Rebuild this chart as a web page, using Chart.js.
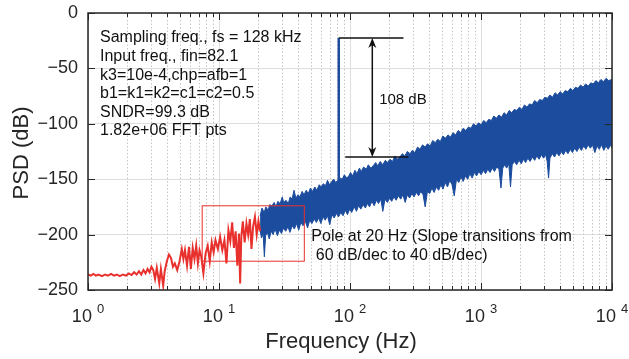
<!DOCTYPE html>
<html>
<head>
<meta charset="utf-8">
<script src="https://cdn.jsdelivr.net/npm/chart.js@4.4.1/dist/chart.umd.min.js"></script>
<style>
  html, body { margin: 0; padding: 0; background: #fff; }
  #wrap { width: 629px; height: 359px; }
</style>
</head>
<body>
<div id="wrap"><canvas id="psd" width="629" height="359"></canvas></div>
<script>
// x axis: frequency (Hz), log; y axis: PSD (dB)
const freqTicks = [1, 10, 100, 1000, 10000]
const freqExponents = ['0', '1', '2', '3', '4']
const psdTicks = [0, -50, -100, -150, -200, -250]

// low-frequency part of the spectrum (red, below the 20 Hz pole)
const redFreq = [1.00, 1.05, 1.10, 1.15, 1.20, 1.28, 1.35, 1.42, 1.50, 1.58, 1.66, 1.75, 1.85, 1.95, 2.05, 2.15, 2.25, 2.35, 2.45, 2.55, 2.65, 2.75, 2.85, 2.95, 3.05, 3.15, 3.25, 3.35, 3.50, 3.60, 3.75, 3.85, 4.00, 4.15, 4.30, 4.45, 4.60, 4.80, 5.00, 5.20, 5.35, 5.50, 5.70, 5.90, 6.10, 6.30, 6.50, 6.70, 6.90, 7.10, 7.30, 7.60, 7.90, 8.20, 8.50, 8.80, 9.10, 9.40, 9.80, 10.2, 10.6, 11.0, 11.4, 11.8, 12.2, 12.6, 13.0, 13.4, 13.8, 14.2, 14.5, 14.8, 15.2, 15.7, 16.2, 16.7, 17.2, 17.7, 18.2, 18.8, 19.4, 20.0, 20.6]
const redPsd = [-236, -237, -235.5, -237, -236, -237.5, -236, -237, -235.5, -237, -236, -237.5, -236, -237, -235, -236.5, -234, -236, -233, -236, -232, -235, -231, -234, -229, -232, -240, -230, -244, -231, -246, -233, -224, -218, -221, -229, -226, -232, -224, -213, -222, -214, -228, -211, -231, -212, -222, -210, -226, -214, -219, -235, -217, -210, -224, -207, -216, -205, -213, -202, -214, -205, -226, -196, -206, -189, -212, -197, -228, -199, -244, -202, -188, -207, -190, -200, -186, -213, -193, -184, -200, -188, -197]

// noise band above 20 Hz (blue): upper edge of the dense FFT trace
const bandTopFreq = [20.6, 21.3, 22.1, 22.8, 23.7, 24.4, 25.3, 26.4, 27.2, 28.1, 29.3, 30.4, 31.2, 32.5, 33.8, 34.9, 36.1, 37.4, 38.6, 40.2, 41.5, 43.1, 44.6, 46.3, 48.0, 49.9, 51.6, 53.9, 55.8, 58.2, 60.1, 62.7, 65.0, 67.3, 69.8, 72.6, 75.1, 77.9, 80.5, 84.0, 87.2, 90.6, 94.3, 97.8, 101, 105, 109, 113, 118, 122, 127, 133, 138, 144, 150, 157, 163, 170, 178, 186, 193, 202, 211, 220, 229, 240, 251, 262, 274, 287, 299, 313, 328, 342, 358, 374, 391, 409, 428, 447, 468, 489, 512, 535, 560, 585, 612, 640, 670, 700, 732, 766, 801, 838, 876, 916, 958, 1002, 1048, 1096, 1146, 1199, 1254, 1311, 1371, 1434, 1500, 1569, 1641, 1716, 1795, 1877, 1963, 2053, 2147, 2245, 2348, 2456, 2568, 2686, 2809, 2938, 3073, 3213, 3361, 3515, 3676, 3844, 4021, 4205, 4398, 4599, 4810, 5031, 5261, 5502, 5755, 6019, 6295, 6583, 6885, 7200, 7530, 7876, 8237, 8614, 9009, 9422, 10000]
const bandTopPsd = [-183, -176, -180, -175, -178, -173, -174, -171, -175, -170, -172, -166, -171, -169, -172, -166, -168, -160, -167, -164, -166, -161, -164, -160, -163, -158, -161, -157, -160, -155, -157, -154, -156, -151, -155, -152, -150, -153, -151, -149, -150, -146, -149, -147, -144, -147, -142, -145, -140, -143, -139, -141, -137, -140, -138, -135, -138, -134, -137, -133, -135, -132, -134, -129, -132, -130, -127, -129, -125, -127, -124, -126, -121, -123, -119, -121, -118, -120, -115, -117, -114, -116, -111, -113, -110, -112, -108, -110, -106, -108, -104, -106, -103, -104, -100, -102, -99, -101, -97, -99, -96, -97, -93, -95, -92, -94, -90, -92, -88, -90, -87, -88, -85, -87, -83, -85, -82, -83, -79, -81, -78, -79, -76, -77, -74, -76, -72, -74, -71, -73, -70, -71, -68, -70, -67, -68, -65, -67, -64, -66, -63, -64, -61, -63, -60, -62, -59, -61, -60]
// lower edge of the band, with the deeper downward spikes
const bandLowFreq = [20.6, 21.1, 21.7, 22.2, 22.7, 23.4, 24.2, 25.0, 25.9, 26.8, 27.9, 28.9, 30.0, 31.1, 32.3, 33.6, 34.8, 36.2, 37.6, 39.1, 40.6, 42.2, 43.8, 45.6, 47.4, 49.3, 51.2, 53.3, 55.4, 57.6, 59.9, 62.3, 64.7, 67.3, 70.0, 72.8, 75.7, 78.7, 81.8, 85.1, 88.5, 92.0, 95.7, 99.5, 103, 108, 112, 116, 121, 126, 131, 136, 141, 147, 153, 159, 165, 172, 178, 185, 193, 200, 208, 217, 225, 234, 244, 253, 264, 274, 285, 297, 308, 321, 334, 347, 361, 375, 390, 406, 422, 439, 456, 475, 494, 513, 534, 555, 578, 601, 625, 650, 676, 703, 731, 761, 791, 823, 856, 890, 926, 963, 1002, 1042, 1083, 1127, 1172, 1219, 1268, 1319, 1372, 1420, 1466, 1515, 1570, 1630, 1680, 1730, 1800, 1870, 1950, 2030, 2110, 2190, 2280, 2370, 2470, 2570, 2670, 2780, 2890, 3000, 3120, 3200, 3280, 3360, 3500, 3640, 3790, 3940, 4100, 4260, 4430, 4610, 4800, 4990, 5190, 5400, 5620, 5840, 6080, 6320, 6570, 6840, 7110, 7400, 7690, 8000, 8320, 8660, 9000, 9360, 9740, 10000]
const bandLowPsd = [-196, -203, -199, -220, -201, -198, -204, -197, -200, -195, -201, -196, -199, -194, -197, -193, -198, -192, -195, -190, -196, -189, -192, -188, -194, -187, -190, -186, -189, -185, -190, -184, -187, -183, -191, -182, -185, -181, -184, -180, -183, -178, -182, -177, -180, -175, -179, -174, -177, -173, -176, -172, -175, -170, -174, -169, -172, -168, -179, -168, -171, -167, -170, -166, -169, -165, -168, -164, -171, -164, -167, -163, -166, -162, -165, -161, -164, -175, -161, -163, -158, -162, -157, -160, -155, -159, -153, -157, -151, -155, -165, -150, -153, -148, -152, -147, -150, -145, -149, -144, -147, -143, -146, -142, -145, -141, -144, -140, -143, -139, -141, -158, -140, -137, -140, -136, -157, -137, -134, -137, -133, -136, -132, -135, -131, -134, -130, -133, -129, -132, -128, -131, -128, -134, -149, -131, -127, -130, -126, -129, -125, -128, -124, -127, -123, -126, -122, -125, -121, -124, -120, -123, -119, -122, -119, -126, -120, -123, -119, -124, -120, -123, -119, -122]

// input tone at fin = 82.1 Hz
const toneFreq = [82.1, 82.1]
const tonePsd = [-176, -22.5]

const FONT = '"Liberation Sans", Arial, Helvetica, sans-serif'
const BLUE = '#1c4c9e'
const RED = '#e8302d'

const infoLines = ['Sampling freq., fs = 128 kHz', 'Input freq., fin=82.1', 'k3=10e-4,chp=afb=1', 'b1=k1=k2=c1=c2=0.5', 'SNDR=99.3 dB', '1.82e+06 FFT pts']
const poleLines = ['Pole at 20 Hz (Slope transitions from', ' 60 dB/dec to 40 dB/dec)']

const toPoints = (xs, ys) => xs.map((x, i) => ({ x, y: ys[i] }))

const minorFreqs = []
freqTicks.slice(0, -1).forEach(d => { for (let m = 2; m <= 9; m++) minorFreqs.push(d * m) })

const arrowHead = (ctx, x, y, dir) => {
  ctx.beginPath()
  ctx.moveTo(x, y)
  ctx.lineTo(x - 4, y + dir * 10)
  ctx.lineTo(x, y + dir * 7)
  ctx.lineTo(x + 4, y + dir * 10)
  ctx.closePath()
  ctx.fill()
}

const decorations = {
  id: 'decorations',
  beforeDatasetsDraw (chart) {
    const { ctx, chartArea: a, scales: { x } } = chart
    ctx.save()
    ctx.strokeStyle = '#c6c6c6'
    ctx.lineWidth = 1
    ctx.setLineDash([1.5, 2])
    minorFreqs.forEach(f => {
      const px = Math.round(x.getPixelForValue(f)) + 0.5
      ctx.beginPath(); ctx.moveTo(px, a.top); ctx.lineTo(px, a.bottom); ctx.stroke()
    })
    ctx.restore()
  },
  afterDraw (chart) {
    const { ctx, chartArea: a, scales: { x, y } } = chart
    ctx.save()

    // red box around the pole region
    ctx.strokeStyle = RED
    ctx.lineWidth = 1
    const bx0 = x.getPixelForValue(7.44), bx1 = x.getPixelForValue(44.8)
    const by0 = y.getPixelForValue(-174), by1 = y.getPixelForValue(-224)
    ctx.strokeRect(bx0, by0, bx1 - bx0, by1 - by0)

    // 108 dB dimension
    ctx.strokeStyle = '#111'
    ctx.fillStyle = '#111'
    ctx.lineWidth = 1.5
    const yTop = y.getPixelForValue(-22.5), yBot = y.getPixelForValue(-130)
    const ax = x.getPixelForValue(148)
    ctx.beginPath()
    ctx.moveTo(x.getPixelForValue(82.1), yTop); ctx.lineTo(x.getPixelForValue(256), yTop)
    ctx.moveTo(x.getPixelForValue(92), yBot); ctx.lineTo(x.getPixelForValue(279), yBot)
    ctx.moveTo(ax, yTop + 4); ctx.lineTo(ax, yBot - 4)
    ctx.stroke()
    arrowHead(ctx, ax, yTop, 1)
    arrowHead(ctx, ax, yBot, -1)
    ctx.font = '15px ' + FONT
    ctx.textBaseline = 'middle'
    ctx.textAlign = 'left'
    ctx.fillText('108 dB', x.getPixelForValue(167), y.getPixelForValue(-78.5))

    // text annotations
    ctx.font = '16px ' + FONT
    infoLines.forEach((t, i) => ctx.fillText(t, a.left + 12, a.top + 25 + i * 18.6))
    const px = x.getPixelForValue(50.7)
    poleLines.forEach((t, i) => ctx.fillText(t, px, y.getPixelForValue(-202) + i * 19))

    // axes box and inward ticks
    ctx.strokeStyle = '#262626'
    ctx.lineWidth = 1.5
    ctx.strokeRect(a.left, a.top, a.right - a.left, a.bottom - a.top)
    ctx.lineWidth = 1
    ctx.beginPath()
    psdTicks.forEach(v => {
      const py = Math.round(y.getPixelForValue(v)) + 0.5
      ctx.moveTo(a.left, py); ctx.lineTo(a.left + 7, py)
      ctx.moveTo(a.right, py); ctx.lineTo(a.right - 7, py)
    })
    freqTicks.forEach(v => {
      const p = Math.round(x.getPixelForValue(v)) + 0.5
      ctx.moveTo(p, a.bottom); ctx.lineTo(p, a.bottom - 7)
      ctx.moveTo(p, a.top); ctx.lineTo(p, a.top + 7)
    })
    minorFreqs.forEach(v => {
      const p = Math.round(x.getPixelForValue(v)) + 0.5
      ctx.moveTo(p, a.bottom); ctx.lineTo(p, a.bottom - 4)
      ctx.moveTo(p, a.top); ctx.lineTo(p, a.top + 4)
    })
    ctx.stroke()

    // tick labels
    ctx.fillStyle = '#262626'
    ctx.font = '18px ' + FONT
    ctx.textAlign = 'right'
    ctx.textBaseline = 'middle'
    psdTicks.forEach(v => ctx.fillText(String(v).replace('-', '\u2212'), a.left - 10, y.getPixelForValue(v)))
    ctx.textAlign = 'left'
    ctx.textBaseline = 'alphabetic'
    freqTicks.forEach((v, i) => {
      ctx.font = '18px ' + FONT
      const wb = ctx.measureText('10').width
      ctx.font = '13px ' + FONT
      const we = ctx.measureText(freqExponents[i]).width
      const left = x.getPixelForValue(v) - (wb + 5 + we) / 2
      ctx.font = '18px ' + FONT
      ctx.fillText('10', left, a.bottom + 32)
      ctx.font = '13px ' + FONT
      ctx.fillText(freqExponents[i], left + wb + 5, a.bottom + 23)
    })

    // axis titles
    ctx.font = '22px ' + FONT
    ctx.textAlign = 'center'
    ctx.fillText('Frequency (Hz)', 341, a.bottom + 58)
    ctx.translate(28, 153)
    ctx.rotate(-Math.PI / 2)
    ctx.fillText('PSD (dB)', 0, 0)
    ctx.restore()
  }
}

const majorGrid = { color: '#dedede', lineWidth: 1, drawTicks: false }

new Chart(document.getElementById('psd'), {
  type: 'line',
  data: {
    datasets: [
      { data: toPoints(redFreq, redPsd), borderColor: RED, borderWidth: 2, pointRadius: 0, fill: false, order: 0 },
      { data: toPoints(bandTopFreq, bandTopPsd), borderColor: BLUE, backgroundColor: BLUE, borderWidth: 1, pointRadius: 0, fill: '+1', order: 1 },
      { data: toPoints(bandLowFreq, bandLowPsd), borderColor: BLUE, borderWidth: 1, pointRadius: 0, fill: false, order: 1 },
      { data: toPoints(toneFreq, tonePsd), borderColor: BLUE, borderWidth: 2.5, pointRadius: 0, fill: false, order: 1 }
    ]
  },
  options: {
    responsive: false,
    animation: false,
    devicePixelRatio: 1,
    layout: { padding: { left: 88, right: 17, top: 13, bottom: 69 } },
    plugins: { legend: { display: false }, tooltip: { enabled: false } },
    elements: { line: { tension: 0 } },
    scales: {
      x: {
        type: 'logarithmic',
        min: 1,
        max: 10000,
        afterBuildTicks: scale => { scale.ticks = freqTicks.map(value => ({ value })) },
        ticks: { display: false },
        grid: majorGrid,
        border: { display: false }
      },
      y: {
        type: 'linear',
        min: -250,
        max: 0,
        afterBuildTicks: scale => { scale.ticks = psdTicks.map(value => ({ value })) },
        ticks: { display: false },
        grid: majorGrid,
        border: { display: false }
      }
    }
  },
  plugins: [decorations]
})
</script>
</body>
</html>
